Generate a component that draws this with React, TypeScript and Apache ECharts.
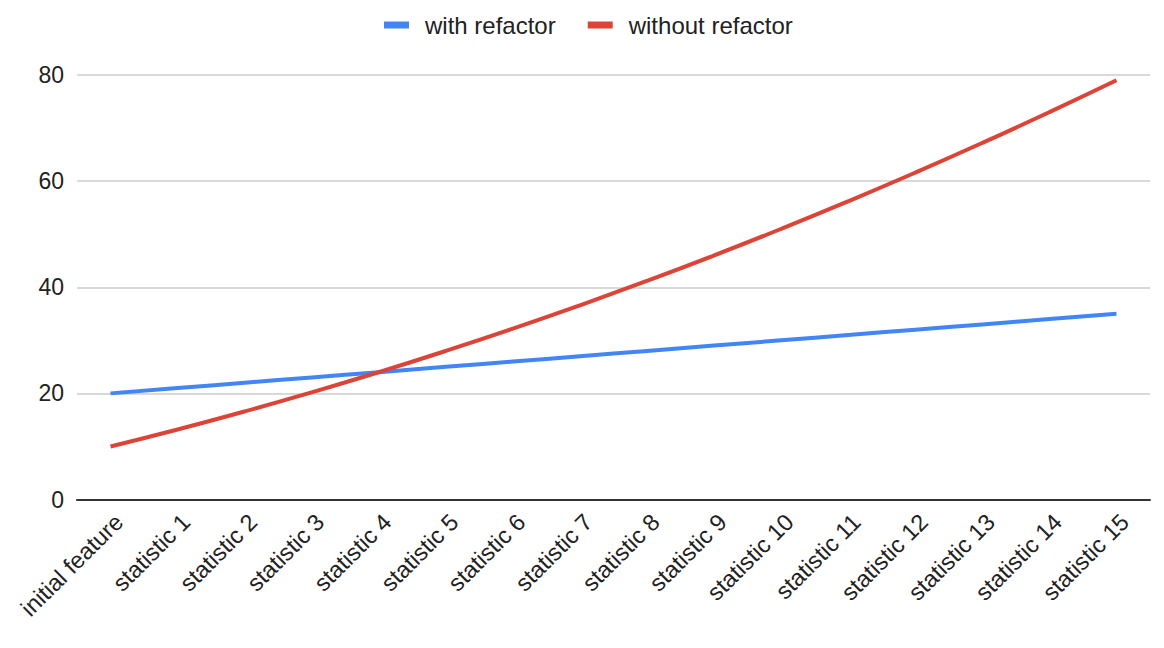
import React, { useEffect, useRef } from "react";
import * as echarts from "echarts";

const categories = [
  "initial feature",
  "statistic 1",
  "statistic 2",
  "statistic 3",
  "statistic 4",
  "statistic 5",
  "statistic 6",
  "statistic 7",
  "statistic 8",
  "statistic 9",
  "statistic 10",
  "statistic 11",
  "statistic 12",
  "statistic 13",
  "statistic 14",
  "statistic 15",
];

const withRefactor = [20, 21, 22, 23, 24, 25, 26, 27, 28, 29, 30, 31, 32, 33, 34, 35];
const withoutRefactor = [10, 13.2, 16.6, 20.2, 24, 28, 32.2, 36.6, 41.2, 46, 51, 56.2, 61.6, 67.2, 73, 79];

const seriesNames = ["with refactor", "without refactor"];
const colors = ["#4285F4", "#DB4437"];
const yTicks = { min: 0, max: 80, interval: 20 };

const FONT = "'Liberation Sans', Arial, sans-serif";

export default function App() {
  const ref = useRef<HTMLDivElement>(null);
  useEffect(() => {
    if (!ref.current) return;
    const chart = echarts.init(ref.current, null, { renderer: "svg" });
    chart.setOption({
      animation: false,
      textStyle: { fontFamily: FONT },
      legend: {
        top: 8,
        left: 379,
        icon: "rect",
        itemWidth: 25,
        itemHeight: 7,
        itemGap: 32,
        textStyle: { fontSize: 24, color: "#222", fontFamily: FONT, padding: [0, 0, 0, 11] },
        data: seriesNames,
      },
      grid: { left: 77, right: 14, top: 75, bottom: 148.5, containLabel: false },
      xAxis: {
        type: "category",
        data: categories,
        boundaryGap: true,
        axisLine: { lineStyle: { color: "#333", width: 2 } },
        axisTick: { show: false },
        axisLabel: {
          rotate: 45,
          interval: 0,
          fontSize: 23.5,
          color: "#222",
          fontFamily: FONT,
          margin: 10,
          verticalAlign: "top",
        },
      },
      yAxis: {
        type: "value",
        min: yTicks.min,
        max: yTicks.max,
        interval: yTicks.interval,
        axisLine: { show: false },
        axisTick: { show: false },
        splitLine: { lineStyle: { color: "#cccccc", width: 1.5 } },
        axisLabel: { fontSize: 23, color: "#222", fontFamily: FONT, margin: 13 },
      },
      series: [
        {
          name: seriesNames[0],
          type: "line",
          data: withRefactor,
          smooth: true,
          showSymbol: false,
          symbol: "none",
          lineStyle: { color: colors[0], width: 4 },
          itemStyle: { color: colors[0] },
        },
        {
          name: seriesNames[1],
          type: "line",
          data: withoutRefactor,
          smooth: true,
          showSymbol: false,
          symbol: "none",
          lineStyle: { color: colors[1], width: 4 },
          itemStyle: { color: colors[1] },
        },
      ],
    });
    return () => chart.dispose();
  }, []);
  return <div ref={ref} style={{ width: 1164, height: 648, position: "absolute", left: 0, top: 0, background: "#fff" }} />;
}
